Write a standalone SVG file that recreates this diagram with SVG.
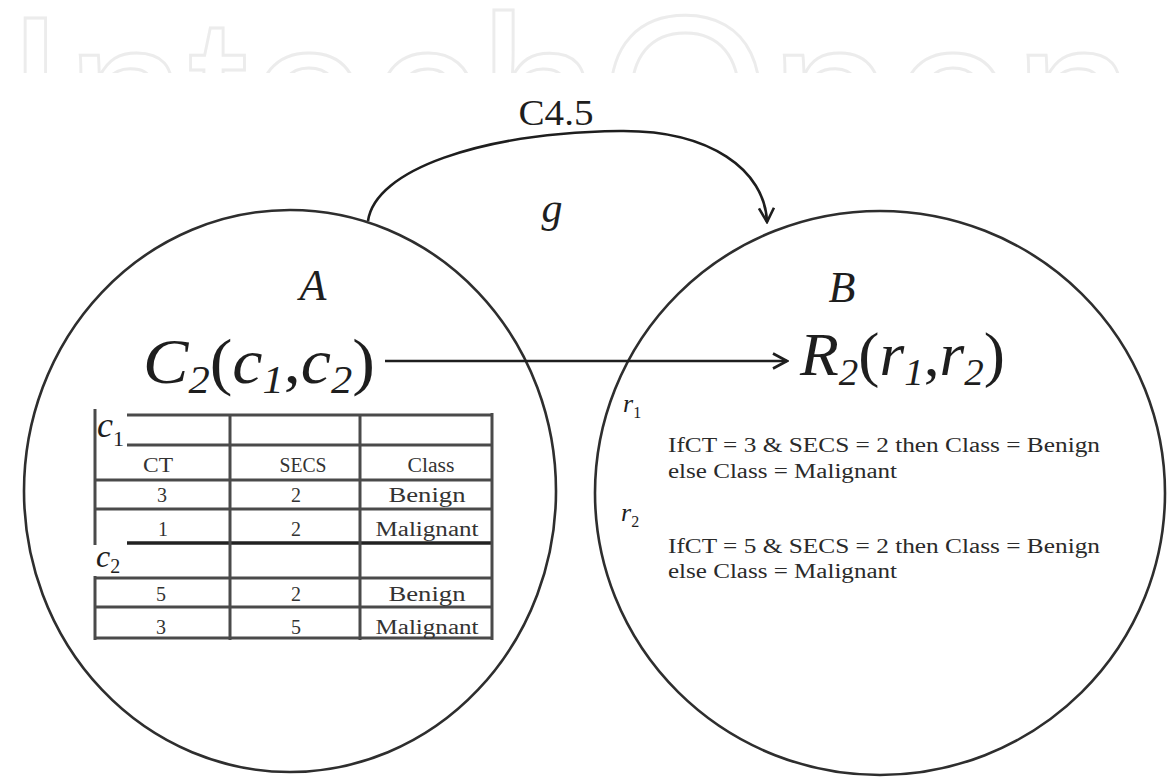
<svg xmlns="http://www.w3.org/2000/svg" width="1167" height="777" viewBox="0 0 1167 777">
  <style>
    .circle { fill: none; stroke: #2e2e2e; stroke-width: 2.6; }
    .serif { font-family: "Liberation Serif", "Times New Roman", serif; fill: #1e1e1e; }
    .it { font-style: italic; }
    .grid { stroke: #4a4a4a; stroke-width: 3; fill: none; }
    .cell { font-family: "Liberation Serif", "Times New Roman", serif; font-size: 20px; fill: #333; text-anchor: middle; }
    .rule { font-family: "Liberation Serif", "Times New Roman", serif; font-size: 20px; fill: #2a2a2a; }
    .conn { fill: none; stroke: #1e1e1e; stroke-width: 2.6; }
    .wm { font-family: "Liberation Sans", Arial, sans-serif; fill: none; stroke: #ececec; stroke-width: 3; }
  </style>
  <defs>
    <marker id="openArrow" viewBox="0 0 18 18" markerWidth="18" markerHeight="18" refX="16" refY="9" orient="auto" markerUnits="userSpaceOnUse">
      <path d="M2,1.5 L16,9 L2,16.5" fill="none" stroke="#1e1e1e" stroke-width="2.6"/>
    </marker>
    <clipPath id="wmClip"><rect x="0" y="0" width="1167" height="73"/></clipPath>
  </defs>
  <rect width="1167" height="777" fill="#ffffff"/>

  <g id="watermark" clip-path="url(#wmClip)">
    <text class="wm" x="5" y="178" font-size="232" textLength="1130" lengthAdjust="spacingAndGlyphs">IntechOpen</text>
  </g>

  <g id="node-A">
    <ellipse class="circle" cx="290" cy="491" rx="266" ry="281"/>
    <text class="serif it" x="313" y="300" font-size="44" text-anchor="middle">A</text>
    <text class="serif it" x="143" y="383" font-size="64" textLength="232" lengthAdjust="spacingAndGlyphs">C<tspan font-size="40" dy="10">2</tspan><tspan font-style="normal" dy="-10">(</tspan>c<tspan font-size="40" dy="10">1</tspan><tspan font-style="normal" dy="-10">,</tspan>c<tspan font-size="40" dy="10">2</tspan><tspan font-style="normal" dy="-10">)</tspan></text>
    <g id="table-c">
      <path class="grid" d="M127,415 H493 M127,445 H493 M95,480 H493 M95,509 H493 M95,578 H493 M95,607 H493 M95,638 H493"/>
      <path d="M127,543 H493" stroke="#222" stroke-width="3.4"/>
      <path class="grid" d="M95,409 V545 M95,576 V640 M230,415 V640 M360,415 V640 M492,413 V640"/>
      <text class="serif it" x="97" y="437" font-size="36">c<tspan font-size="22" dy="9" font-style="normal">1</tspan></text>
      <text class="serif it" x="96" y="567" font-size="32">c<tspan font-size="20" dy="6" font-style="normal">2</tspan></text>
      <text class="cell" x="158" y="472" textLength="30" lengthAdjust="spacingAndGlyphs">CT</text>
      <text class="cell" x="303" y="472" textLength="47" lengthAdjust="spacingAndGlyphs">SECS</text>
      <text class="cell" x="431" y="472" textLength="47" lengthAdjust="spacingAndGlyphs">Class</text>
      <text class="cell" x="162" y="502">3</text>
      <text class="cell" x="296" y="502">2</text>
      <text class="cell" x="427" y="502" textLength="77" lengthAdjust="spacingAndGlyphs">Benign</text>
      <text class="cell" x="163" y="536">1</text>
      <text class="cell" x="296" y="536">2</text>
      <text class="cell" x="427" y="536" textLength="103" lengthAdjust="spacingAndGlyphs">Malignant</text>
      <text class="cell" x="161" y="601">5</text>
      <text class="cell" x="296" y="601">2</text>
      <text class="cell" x="427" y="601" textLength="77" lengthAdjust="spacingAndGlyphs">Benign</text>
      <text class="cell" x="161" y="634">3</text>
      <text class="cell" x="296" y="634">5</text>
      <text class="cell" x="427" y="634" textLength="103" lengthAdjust="spacingAndGlyphs">Malignant</text>
    </g>
  </g>

  <g id="node-B">
    <ellipse class="circle" cx="880" cy="493" rx="285" ry="282"/>
    <text class="serif it" x="842" y="302" font-size="44" text-anchor="middle">B</text>
    <text class="serif it" x="800" y="375" font-size="62" textLength="205" lengthAdjust="spacingAndGlyphs">R<tspan font-size="38" dy="10">2</tspan><tspan font-style="normal" dy="-10">(</tspan>r<tspan font-size="38" dy="10">1</tspan><tspan font-style="normal" dy="-10">,</tspan>r<tspan font-size="38" dy="10">2</tspan><tspan font-style="normal" dy="-10">)</tspan></text>
    <text class="serif it" x="623" y="412" font-size="26">r<tspan font-size="16" dy="6" font-style="normal">1</tspan></text>
    <text class="serif it" x="621" y="521" font-size="26">r<tspan font-size="16" dy="6" font-style="normal">2</tspan></text>
    <text class="rule" x="668" y="452" textLength="432" lengthAdjust="spacingAndGlyphs">IfCT = 3 &amp; SECS = 2 then Class = Benign</text>
    <text class="rule" x="668" y="478" textLength="229" lengthAdjust="spacingAndGlyphs">else Class = Malignant</text>
    <text class="rule" x="668" y="553" textLength="432" lengthAdjust="spacingAndGlyphs">IfCT = 5 &amp; SECS = 2 then Class = Benign</text>
    <text class="rule" x="668" y="578" textLength="229" lengthAdjust="spacingAndGlyphs">else Class = Malignant</text>
  </g>

  <g id="connectors">
    <path class="conn" d="M368,221 C375,170 480,133 620,131 C710,130 765,170 767,222" marker-end="url(#openArrow)"/>
    <text class="serif" x="556" y="125" font-size="36" text-anchor="middle" textLength="75" lengthAdjust="spacingAndGlyphs">C4.5</text>
    <text class="serif it" x="552" y="222" font-size="42" text-anchor="middle">g</text>
    <line class="conn" x1="385" y1="361" x2="787" y2="361" stroke-width="3" marker-end="url(#openArrow)"/>
  </g>
</svg>
